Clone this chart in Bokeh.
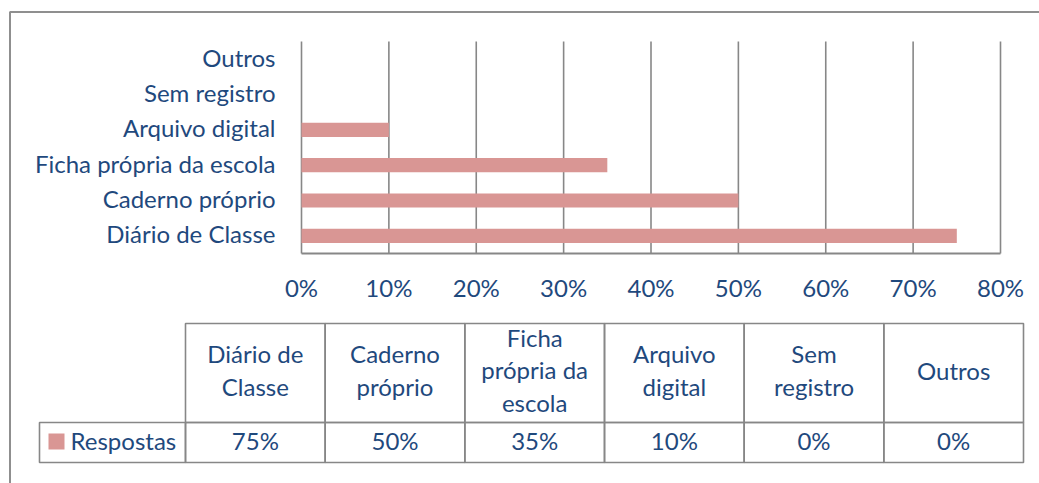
from bokeh.plotting import figure
from bokeh.models import Range1d
from bokeh.core.properties import value
from bokeh.embed import file_html
from bokeh.resources import INLINE

# ---- data ----
categories = ["Diário de Classe", "Caderno próprio", "Ficha própria da escola",
              "Arquivo digital", "Sem registro", "Outros"]
table_headers = ["Diário de\nClasse", "Caderno\npróprio", "Ficha\nprópria da\nescola",
                 "Arquivo\ndigital", "Sem\nregistro", "Outros"]
respostas = [0.75, 0.50, 0.35, 0.10, 0.0, 0.0]
series_name = "Respostas"
x_ticks = [0.0, 0.1, 0.2, 0.3, 0.4, 0.5, 0.6, 0.7, 0.8]

# ---- layout (window pixel coordinates) ----
OFF = 0
W, H = 1039, 483
PL, PR, PT, PB = 301, 1000, 41, 253      # plot area
XMAX = x_ticks[-1]
FONT = value("Lato")
FS = "24px"
TXT = "#1F497D"
GRID = "#878787"
BAR = "#D99694"

sx = (PR - PL) / XMAX
band = (PB - PT) / len(categories)

p = figure(width=W, height=H, output_backend="svg", toolbar_location=None,
           x_range=Range1d(OFF, OFF + W), y_range=Range1d(OFF + H, OFF),
           x_axis_location=None, y_axis_location=None, min_border=0,
           outline_line_color=None, background_fill_color="white",
           border_fill_color="white")
p.grid.visible = False
p.extra_x_ranges = {"pct": Range1d(start=(OFF - PL) / sx, end=(OFF + W - PL) / sx)}
p.extra_y_ranges = {"cat": Range1d(start=(PB - (OFF + H)) / band, end=(PB - OFF) / band)}

# outer chart border
p.line(x=[9.5, 9.5, OFF + W + 5], y=[OFF + H + 5, 11.5, 11.5],
       line_color="#8f8f8f", line_width=2)

# gridlines and axis
ncat = len(categories)
p.segment(x0=x_ticks, y0=[0] * len(x_ticks), x1=x_ticks, y1=[ncat] * len(x_ticks),
          x_range_name="pct", y_range_name="cat", line_color=GRID, line_width=1.6)
p.segment(x0=[0], y0=[0], x1=[XMAX], y1=[0], x_range_name="pct", y_range_name="cat",
          line_color=GRID, line_width=2)

# bars
ys = [i + 0.5 for i in range(ncat)]
p.hbar(y=ys, left=0, right=respostas, height=0.4, x_range_name="pct", y_range_name="cat",
       fill_color=BAR, line_color=None)

# category labels
p.text(x=[PL - 26] * ncat, y=ys, text=categories, y_range_name="cat", y_offset=-2,
       text_align="right", text_baseline="middle", text_font=FONT,
       text_font_size=FS, text_color=TXT)

# tick labels
p.text(x=x_ticks, y=[287] * len(x_ticks), text=[f"{round(t * 100)}%" for t in x_ticks],
       x_range_name="pct", text_align="center", text_baseline="middle",
       text_font=FONT, text_font_size=FS, text_color=TXT)

# ---- data table ----
TL, TR = 185, 1023
TT, TM, TB = 323, 422, 462
LEG_L = 39
cw = (TR - TL) / ncat
lefts = [TL + i * cw for i in range(ncat)]
rights = [l + cw for l in lefts]
centers = [l + cw / 2 for l in lefts]

p.quad(left=lefts, right=rights, top=[TT] * ncat, bottom=[TM] * ncat,
       fill_color=None, line_color=GRID, line_width=1.6)
p.quad(left=lefts + [LEG_L], right=rights + [TL], top=[TM] * (ncat + 1),
       bottom=[TB] * (ncat + 1), fill_color=None, line_color=GRID, line_width=1.6)

p.text(x=centers, y=[(TT + TM) / 2 - 3] * ncat, text=table_headers,
       text_align="center", text_baseline="middle", text_line_height=1.13,
       text_font=FONT, text_font_size=FS, text_color=TXT)
p.text(x=centers, y=[(TM + TB) / 2 - 2] * ncat, text=[f"{round(v * 100)}%" for v in respostas],
       text_align="center", text_baseline="middle",
       text_font=FONT, text_font_size=FS, text_color=TXT)

# legend key
p.quad(left=[48], right=[64], top=[433], bottom=[449], fill_color=BAR, line_color=None)
p.text(x=[70], y=[(TM + TB) / 2 - 2], text=[series_name], text_align="left",
       text_baseline="middle", text_font=FONT, text_font_size=FS, text_color=TXT)

open("out.html", "w").write(file_html(p, INLINE))
